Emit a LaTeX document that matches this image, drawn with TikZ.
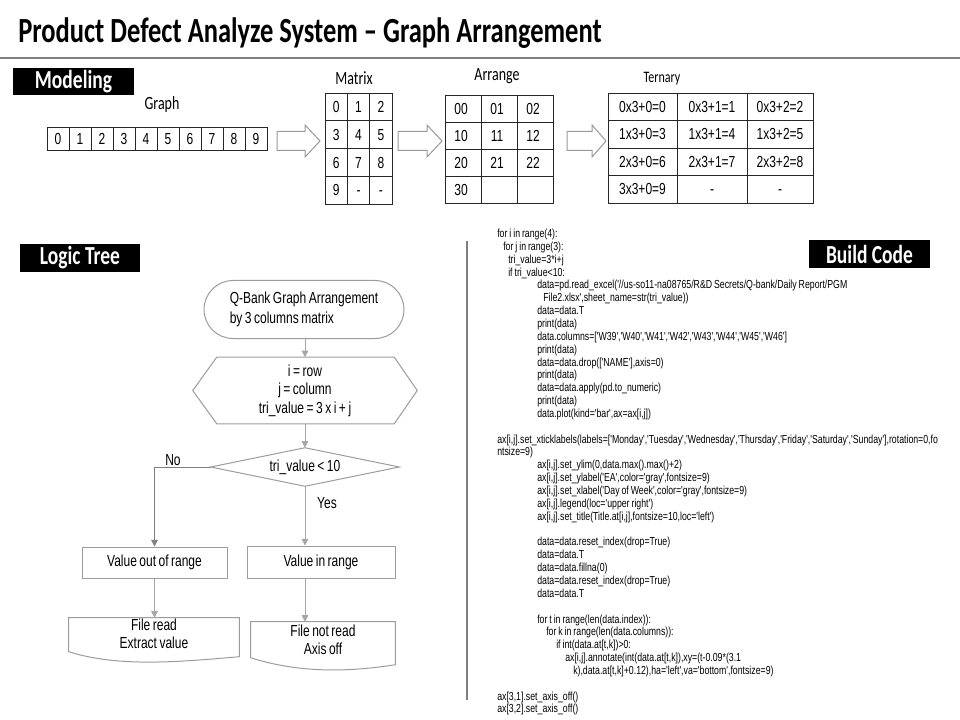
\documentclass[tikz,border=0pt]{standalone}
\usepackage{fontspec}
\setmainfont{Liberation Sans}[FakeStretch=0.75,WordSpace=0.75]
\newfontfamily\calfont{Carlito}[FakeStretch=0.75]
\newfontfamily\codefont{Liberation Sans}[FakeStretch=0.75,WordSpace=0.8]
\usetikzlibrary{arrows.meta,calc}
\definecolor{lgray}{HTML}{A6A6A6}
\definecolor{mgray}{HTML}{7F7F7F}
\definecolor{bgray}{HTML}{9C9C9C}
\newcommand\codeln[4]{\node[code] (#1) at (#2,234+12.85*#3+3.5) {#4};}
\tikzset{
  titletext/.style={anchor=base west, inner sep=0pt, font=\calfont\bfseries\fontsize{26.5pt}{30pt}\selectfont},
  tag/.style={fill=black, text=white, inner sep=0pt, font=\calfont\bfseries\fontsize{19.5pt}{22pt}\selectfont},
  lab/.style={inner sep=0pt, font=\calfont\fontsize{14pt}{16pt}\selectfont},
  cell/.style={inner sep=0pt, text height=8.6pt, text depth=0pt, font=\fontsize{12pt}{14pt}\selectfont},
  tab/.style={draw=black!85, line width=0.7pt},
  barrow/.style={draw=black!40, line width=0.75pt, fill=white},
  fbox/.style={draw=bgray, line width=0.75pt, inner sep=0pt, font=\fontsize{12pt}{14pt}\selectfont},
  fshape/.style={draw=bgray, line width=0.75pt},
  ftext/.style={inner sep=0pt, align=center},
  flow/.style={draw=lgray, line width=0.75pt, -{Triangle[length=5pt,width=5pt]}},
  flowdark/.style={draw=mgray, line width=0.75pt, -{Triangle[length=5pt,width=5pt]}},
  code/.style={anchor=base west, inner sep=0pt, font=\codefont\fontsize{8.75pt}{10pt}\selectfont},
}
\begin{document}
\begin{tikzpicture}[x=0.75pt,y=-0.75pt]
\useasboundingbox (0,0) rectangle (960,720);
\fill[white] (0,0) rectangle (960,720);

% title
\node[titletext] (title) at (18,43) {Product Defect Analyze System – Graph Arrangement};
\draw[mgray, line width=1.1pt] (0,58) -- (960,58);

% section tags
\node[tag, minimum width=90.75pt, minimum height=20.25pt] (modeling) at (73.5,81.5) {Modeling};
\node[tag, minimum width=90pt, minimum height=21pt] (logictree) at (80,258) {Logic Tree};
\node[tag, minimum width=90.75pt, minimum height=21pt] (buildcode) at (869.5,254) {Build Code};

% ---------- Graph table
\node[lab] (lgraph) at (162,105) {Graph};
\draw[tab] (47,127) rectangle (267,150);
\foreach \i in {1,...,9} \draw[tab] (47+22*\i,127) -- (47+22*\i,150);
\foreach \i in {0,...,9} \node[cell] (g\i) at (58+22*\i,138.5) {\i};

% ---------- Matrix table
\node[lab] (lmatrix) at (354,78) {Matrix};
\draw[tab] (325,93) rectangle (392,204);
\foreach \i in {1,2} \draw[tab] (325+22.33*\i,93) -- (325+22.33*\i,204);
\foreach \j in {1,2,3} \draw[tab] (325,93+27.75*\j) -- (392,93+27.75*\j);
\foreach \r/\c/\t in {0/0/0,0/1/1,0/2/2,1/0/3,1/1/4,1/2/5,2/0/6,2/1/7,2/2/8,3/0/9,3/1/-,3/2/-}
  \node[cell] (m\r\c) at (336.2+22.33*\c,106.9+27.75*\r) {\t};

% ---------- Arrange table
\node[lab] (larrange) at (497,76) {Arrange};
\draw[tab] (445,95) rectangle (553,203);
\foreach \i in {1,2} \draw[tab] (445+36*\i,95) -- (445+36*\i,203);
\foreach \j in {1,2,3} \draw[tab] (445,95+27*\j) -- (553,95+27*\j);
\foreach \r/\c/\t in {0/0/00,0/1/01,0/2/02,1/0/10,1/1/11,1/2/12,2/0/20,2/1/21,2/2/22,3/0/30}
  \node[cell] (a\r\c) at (461+36*\c,108.5+27*\r) {\t};

% ---------- Ternary table
\node[lab, font=\calfont\fontsize{12pt}{14pt}\selectfont] (lternary) at (662,79) {Ternary};
\draw[tab] (608,93) rectangle (813,203);
\draw[tab] (677,93) -- (677,203);
\draw[tab] (747,93) -- (747,203);
\foreach \j in {1,2,3} \draw[tab] (608,93+27.5*\j) -- (813,93+27.5*\j);
\foreach \r/\t in {0/0x3+0=0,1/1x3+0=3,2/2x3+0=6,3/3x3+0=9}
  \node[cell] (t\r0) at (642.5,106.75+27.5*\r) {\t};
\foreach \r/\t in {0/0x3+1=1,1/1x3+1=4,2/2x3+1=7,3/-}
  \node[cell] (t\r1) at (712,106.75+27.5*\r) {\t};
\foreach \r/\t in {0/0x3+2=2,1/1x3+2=5,2/2x3+2=8,3/-}
  \node[cell] (t\r2) at (780,106.75+27.5*\r) {\t};

% ---------- block arrows
\draw[barrow] (277,131.5) -- (305,131.5) -- (305,125) -- (320,141) -- (305,157) -- (305,150.5) -- (277,150.5) -- cycle;
\draw[barrow] (398,131.5) -- (427,131.5) -- (427,125) -- (442,141) -- (427,157) -- (427,150.5) -- (398,150.5) -- cycle;
\draw[barrow] (567,131.5) -- (592,131.5) -- (592,125) -- (606,141) -- (592,157) -- (592,150.5) -- (567,150.5) -- cycle;

% ---------- Logic tree
\node[fbox, rounded corners=21.75pt, minimum width=150pt, minimum height=43.5pt,
      align=left, font=\fontsize{12pt}{15pt}\selectfont] (start) at (304,309.5)
      {Q-Bank Graph Arrangement\\by 3 columns matrix};

\node[ftext, minimum width=168pt, minimum height=49.5pt, font=\fontsize{12pt}{13.9pt}\selectfont] (hex) at (305,390.5)
      {i = row\\j = column\\tri\_value = 3 x i + j};
\draw[fshape] (hex.west) -- ($(hex.north west)+(24,0)$) -- ($(hex.north east)+(-23,0)$) -- (hex.east)
   -- ($(hex.south east)+(-23,0)$) -- ($(hex.south west)+(24,0)$) -- cycle;

\node[ftext, minimum width=141pt, minimum height=28.5pt, font=\fontsize{12pt}{14pt}\selectfont] (dec) at (305,467) {tri\_value < 10};
\draw[fshape] (dec.west) -- (dec.north) -- (dec.east) -- (dec.south) -- cycle;

\node[fbox, minimum width=108.75pt, minimum height=23.25pt] (b1) at (154.5,562.5) {Value out of range};
\node[fbox, minimum width=111pt, minimum height=24pt] (b2) at (321,562) {Value in range};

\node[ftext, minimum width=127.5pt, minimum height=24pt, font=\fontsize{12pt}{13.5pt}\selectfont] (d1) at (154,634) {File read\\Extract value};
\draw[fshape] (d1.north west) -- ($(d1.north west)+(0,34)$)
   .. controls ($(d1.north west)+(51,50)$) and ($(d1.north west)+(111,44)$) .. ($(d1.north east)+(0,39)$)
   -- (d1.north east) -- cycle;

\node[ftext, minimum width=108pt, minimum height=27pt, font=\fontsize{12pt}{13.5pt}\selectfont] (d2) at (323,640) {File not read\\Axis off};
\draw[fshape] (d2.north west) -- ($(d2.north west)+(0,36)$)
   .. controls ($(d2.north west)+(50,52)$) and ($(d2.north west)+(100,50)$) .. ($(d2.north east)+(0,43)$)
   -- (d2.north east) -- cycle;

\draw[flow] (start.south -| hex.north) -- (hex.north);
\draw[flow] (hex.south) -- (dec.north);
\draw[flowdark] (dec.west) -| (b1.north);
\node[inner sep=0pt, font=\fontsize{12pt}{14pt}\selectfont] (no) at (173,460) {No};
\draw[flow] (dec.south) -- (dec.south |- b2.north);
\node[inner sep=0pt, font=\fontsize{12pt}{14pt}\selectfont] (yes) at (327,503) {Yes};
\draw[flow] (b1.south) -- (b1.south |- d1.north);
\draw[flow] (b2.south -| dec.south) -- (dec.south |- d2.north);

% divider
\draw[mgray, line width=0.9pt] (467,241) -- (467,700);

% ---------- code
\codeln{c0}{497}{0}{for i in range(4):}
\codeln{c1}{503}{1}{for j in range(3):}
\codeln{c2}{508}{2}{tri\_value=3*i+j}
\codeln{c3}{508}{3}{if tri\_value<10:}
\codeln{c4}{537}{4}{data=pd.read\_excel('//us-so11-na08765/R\&D Secrets/Q-bank/Daily Report/PGM}
\codeln{c5}{543}{5}{File2.xlsx',sheet\_name=str(tri\_value))}
\codeln{c6}{537}{6}{data=data.T}
\codeln{c7}{537}{7}{print(data)}
\codeln{c8}{537}{8}{data.columns=['W39','W40','W41','W42','W43','W44','W45','W46']}
\codeln{c9}{537}{9}{print(data)}
\codeln{c10}{537}{10}{data=data.drop(['NAME'],axis=0)}
\codeln{c11}{537}{11}{print(data)}
\codeln{c12}{537}{12}{data=data.apply(pd.to\_numeric)}
\codeln{c13}{537}{13}{print(data)}
\codeln{c14}{537}{14}{data.plot(kind='bar',ax=ax[i,j])}
\codeln{c16}{497}{16}{ax[i,j].set\_xticklabels(labels=['Monday','Tuesday','Wednesday','Thursday','Friday','Saturday','Sunday'],rotation=0,fo}
\codeln{c17}{497}{17}{ntsize=9)}
\codeln{c18}{537}{18}{ax[i,j].set\_ylim(0,data.max().max()+2)}
\codeln{c19}{537}{19}{ax[i,j].set\_ylabel('EA',color='gray',fontsize=9)}
\codeln{c20}{537}{20}{ax[i,j].set\_xlabel('Day of Week',color='gray',fontsize=9)}
\codeln{c21}{537}{21}{ax[i,j].legend(loc='upper right')}
\codeln{c22}{537}{22}{ax[i,j].set\_title(Title.at[i,j],fontsize=10,loc='left')}
\codeln{c24}{537}{24}{data=data.reset\_index(drop=True)}
\codeln{c25}{537}{25}{data=data.T}
\codeln{c26}{537}{26}{data=data.fillna(0)}
\codeln{c27}{537}{27}{data=data.reset\_index(drop=True)}
\codeln{c28}{537}{28}{data=data.T}
\codeln{c30}{537}{30}{for t in range(len(data.index)):}
\codeln{c31}{546}{31}{for k in range(len(data.columns)):}
\codeln{c32}{556}{32}{if int(data.at[t,k])>0:}
\codeln{c33}{565}{33}{ax[i,j].annotate(int(data.at[t,k]),xy=(t-0.09*(3.1}
\codeln{c34}{573}{34}{k),data.at[t,k]+0.12),ha='left',va='bottom',fontsize=9)}
\codeln{c36}{497}{36}{ax[3,1].set\_axis\_off()}
\codeln{c37}{497}{37}{ax[3,2].set\_axis\_off()}
\end{tikzpicture}
\end{document}
